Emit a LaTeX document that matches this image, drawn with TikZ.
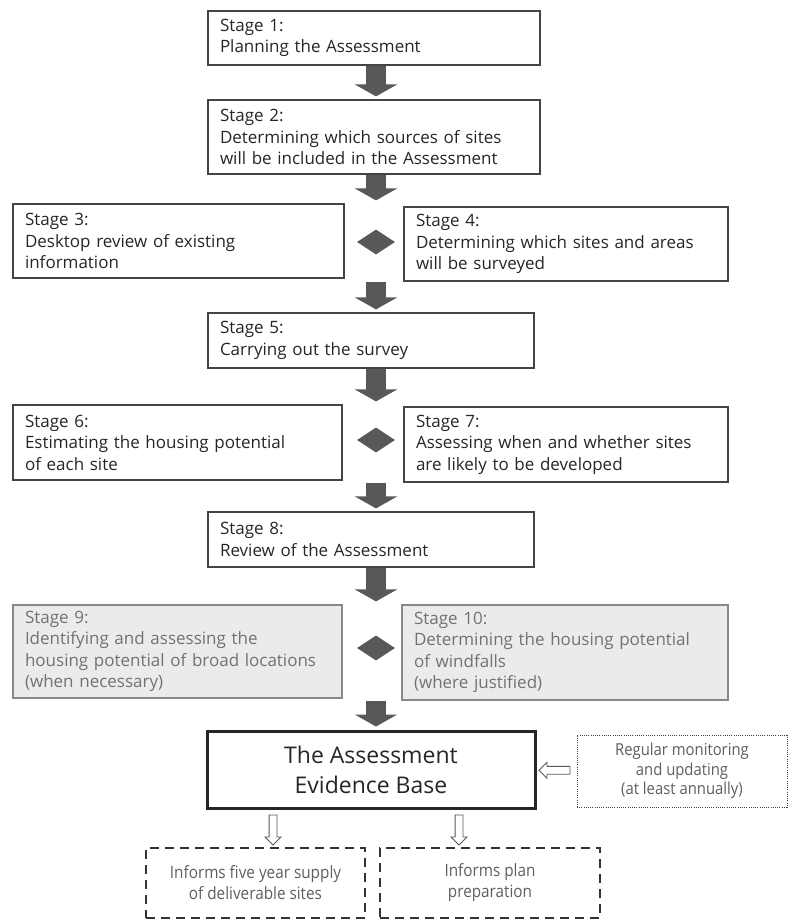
\documentclass[tikz,border=0pt]{standalone}
\usepackage{fontspec}
\setmainfont{Open Sans}
\newfontfamily\condfont[FakeStretch=0.9]{Open Sans}
\usetikzlibrary{shapes.geometric,shapes.arrows,arrows.meta,calc}
\definecolor{boxline}{HTML}{444444}
\definecolor{txt}{HTML}{262626}
\definecolor{arrowgray}{HTML}{585858}
\definecolor{greyfill}{HTML}{EBEBEB}
\definecolor{greyline}{HTML}{888888}
\definecolor{greytxt}{HTML}{727272}
\definecolor{softtxt}{HTML}{5E5E5E}
\tikzset{
  stagebox/.style={draw=boxline, line width=1.2pt, align=left, inner xsep=12pt, inner ysep=0pt,
    text=txt, font=\fontsize{17}{21.5}\selectfont, anchor=center},
  greybox/.style={stagebox, fill=greyfill, draw=greyline, text=greytxt},
  blockarrow/.style={draw=arrowgray, line width=20pt, shorten >=3pt,
    -{Triangle[width=42pt,length=12pt]}},
  joint/.style={diamond, fill=arrowgray, draw=none, minimum width=38pt, minimum height=25pt, inner sep=0pt},
  basebox/.style={draw=black!85, line width=3pt, align=center, text=txt,
    font=\fontsize{23}{30}\selectfont},
  monbox/.style={draw=black!75, line width=1pt, dash pattern=on 1pt off 1.2pt, align=center,
    text=softtxt, font=\condfont\fontsize{16.5}{19.5}\selectfont},
  informbox/.style={draw=black!80, line width=2.5pt, dash pattern=on 9pt off 6pt, align=center,
    text=softtxt, font=\condfont\fontsize{17}{21}\selectfont},
  hollowarrow/.style={single arrow, draw=black!65, fill=white, line width=0.8pt,
    inner sep=3.5pt, single arrow head extend=4pt, minimum height=30pt}
}
\begin{document}
\begin{tikzpicture}[x=1pt,y=-1pt]
\useasboundingbox (0,0) rectangle (790,922);
% stages
\node[stagebox, minimum height=54pt, text width=308pt] (s1) at (374,38) {Stage 1:\\Planning the Assessment};
\node[stagebox, minimum height=74pt, text width=308pt] (s2) at (374,137) {Stage 2:\\Determining which sources of sites\\will be included in the Assessment};
\node[stagebox, minimum height=74pt, text width=307pt] (s3) at (178.5,241) {Stage 3:\\Desktop review of existing\\information};
\node[stagebox, minimum height=74pt, text width=300pt] (s4) at (566,244) {Stage 4:\\Determining which sites and areas\\will be surveyed};
\node[joint] (d1) at (376,242) {};
\node[stagebox, minimum height=55pt, text width=302pt] (s5) at (371,340.5) {Stage 5:\\Carrying out the survey};
\node[stagebox, minimum height=75pt, text width=305pt] (s6) at (177.5,442.5) {Stage 6:\\Estimating the housing potential\\of each site};
\node[stagebox, minimum height=75pt, text width=300pt] (s7) at (566,444.5) {Stage 7:\\Assessing when and whether sites\\are likely to be developed};
\node[joint] (d2) at (376,440) {};
\node[stagebox, minimum height=55pt, text width=302pt] (s8) at (371,539.5) {Stage 8:\\Review of the Assessment};
\node[greybox, minimum height=93pt, text width=305pt] (s9) at (177.5,651.5) {Stage 9:\\Identifying and assessing the\\housing potential of broad locations\\(when necessary)};
\node[greybox, minimum height=95pt, text width=302pt] (s10) at (565,652.5) {Stage 10:\\Determining the housing potential\\of windfalls\\(where justified)};
\node[joint] (d3) at (376,648) {};
% evidence base and surroundings
\node[basebox, minimum width=328pt, minimum height=77pt] (base) at (371,769.5) {The Assessment\\Evidence Base};
\node[monbox, minimum width=210pt, minimum height=72pt] (mon) at (682,771) {Regular monitoring\\and updating\\(at least annually)};
\node[informbox, minimum width=219pt, minimum height=70pt] (inf1) at (255.5,883) {Informs five year supply\\of deliverable sites};
\node[informbox, minimum width=220pt, minimum height=70pt] (inf2) at (490,883) {Informs plan\\preparation};
% block arrows
\draw[blockarrow] (s1.south -| d1) -- (s2.north -| d1);
\draw[blockarrow] (s2.south -| d1) -- (s3.north -| d1);
\draw[blockarrow] (s4.south -| d1) -- (s5.north -| d1);
\draw[blockarrow] (s5.south -| d2) -- (s6.north -| d2);
\draw[blockarrow] (s7.south -| d2) -- (s8.north -| d2);
\draw[blockarrow] (s8.south -| d3) -- (s9.north -| d3);
\draw[blockarrow] (s10.south -| d3) -- (base.north -| d3);
% hollow arrows
\node[hollowarrow, shape border rotate=180, minimum height=31pt] (h1) at ($(base.east)!0.5!(mon.west)$) {};
\node[hollowarrow, shape border rotate=270] (h2) at (273,828) {};
\node[hollowarrow, shape border rotate=270] (h3) at (459,828) {};
\end{tikzpicture}
\end{document}
